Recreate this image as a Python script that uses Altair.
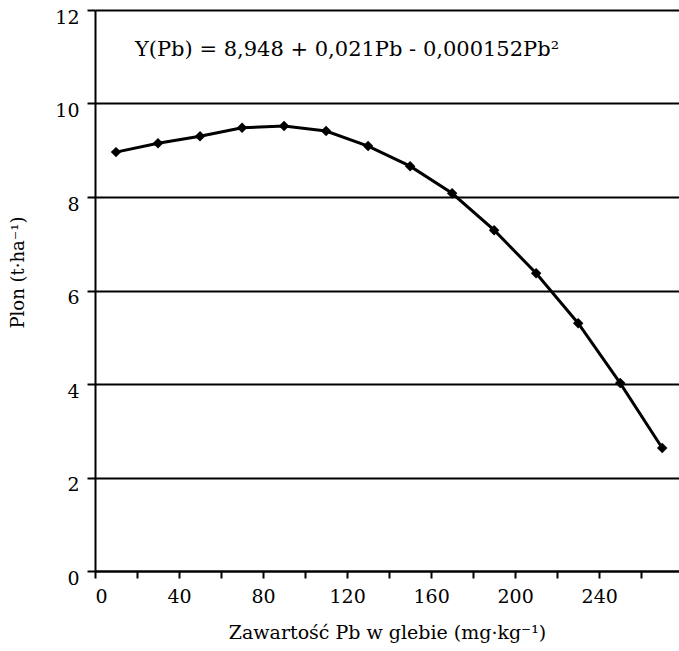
import altair as alt
import pandas as pd

pb = [10, 30, 50, 70, 90, 110, 130, 150, 170, 190, 210, 230, 250, 270]
plon = [8.96, 9.15, 9.30, 9.48, 9.52, 9.41, 9.09, 8.66, 8.08, 7.29, 6.37, 5.30, 4.02, 2.63]
x_ticks = [0, 20, 40, 60, 80, 100, 120, 140, 160, 180, 200, 220, 240, 260]
y_ticks = [0, 2, 4, 6, 8, 10, 12]
equation = "Y(Pb) =  8,948 + 0,021Pb - 0,000152Pb²"
x_title = "Zawartość  Pb w glebie (mg·kg⁻¹)"
y_title = "Plon  (t·ha⁻¹)"

FONT = "DejaVu Serif"

df = pd.DataFrame({"pb": pb, "plon": plon})
eq_df = pd.DataFrame({"x": [19], "y": [11.14], "t": [equation]})

xs = alt.Scale(domain=[0, 278], nice=False, zero=False)
ys = alt.Scale(domain=[0, 12], nice=False)

x_axis = alt.Axis(
    values=x_ticks, grid=False,
    labelExpr="datum.value % 40 == 0 ? datum.label : ''",
    tickSize=7, labelPadding=9, titleFontSize=19,
    titleX=292, titleY=61, titleBaseline="middle", titleAlign="center",
)
y_axis = alt.Axis(
    values=y_ticks, grid=True, tickSize=8, labelPadding=8, labelOffset=7,
    titleX=-77, titleY=262, titleAngle=-90, titleAlign="center", titleBaseline="middle",
)

base = alt.Chart(df)
line = base.mark_line(color="black", strokeWidth=3).encode(
    x=alt.X("pb:Q", scale=xs, axis=x_axis, title=x_title),
    y=alt.Y("plon:Q", scale=ys, axis=y_axis, title=y_title),
)
points = base.mark_point(shape="diamond", filled=True, color="black", size=110, opacity=1).encode(
    x="pb:Q", y="plon:Q"
)
text = alt.Chart(eq_df).mark_text(
    align="left", baseline="middle", font=FONT, fontSize=21, color="black"
).encode(x="x:Q", y="y:Q", text="t:N")

chart = (
    alt.layer(line, points, text)
    .properties(width=584, height=561, background="white",
                autosize=alt.AutoSizeParams(type="none"),
                padding={"left": 95, "top": 10, "right": 0, "bottom": 80})
    .configure_view(strokeWidth=0)
    .configure_axis(
        domainColor="black", domainWidth=2, tickColor="black", tickWidth=2,
        gridColor="black", gridWidth=2, gridOpacity=1,
        labelFont=FONT, labelFontSize=19, labelColor="black",
        titleFont=FONT, titleFontSize=18, titleColor="black", titleFontWeight="normal",
    )
)

chart.save("out.html", embed_options={"renderer": "svg", "actions": False})
